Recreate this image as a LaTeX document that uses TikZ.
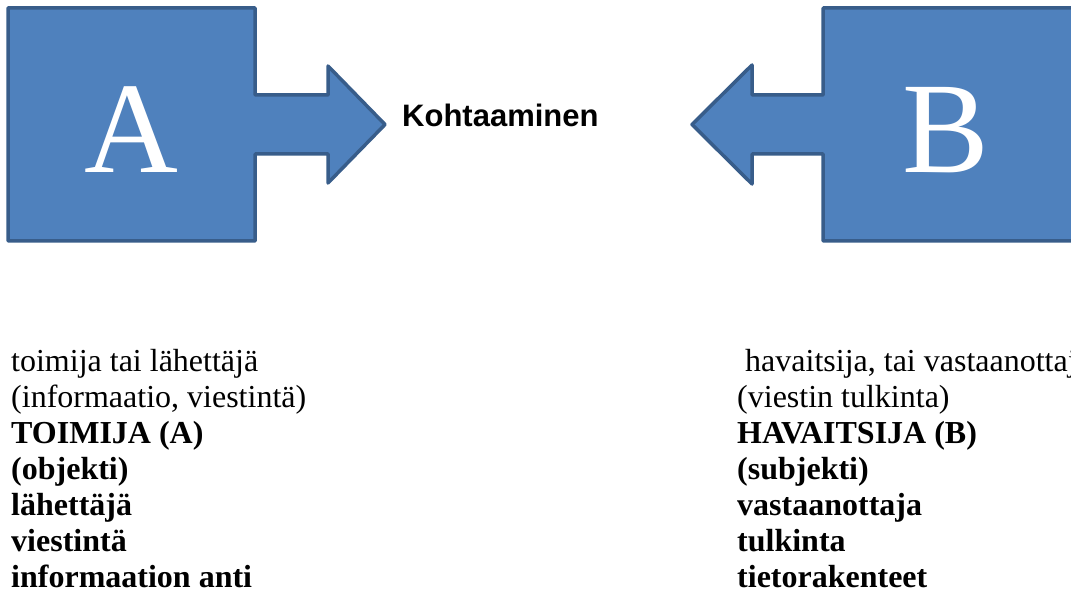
\documentclass[tikz,border=0pt]{standalone}
\usepackage{fontspec}
\setmainfont{Liberation Serif}
\newfontfamily\headfont{Liberation Sans}
\usepackage{tikz}
\usetikzlibrary{positioning}
\usepackage{xcolor}
\definecolor{partyfill}{HTML}{4F81BD}
\definecolor{partyedge}{HTML}{385D8A}
\tikzset{
  partyshape/.style={
    fill=partyfill,
    draw=partyedge,
    line width=3.5pt,
    line join=round
  },
  partyletter/.style={
    text=white,
    inner sep=0pt,
    font=\fontsize{130}{130}\selectfont
  },
  notes/.style={
    align=left,
    inner sep=0pt,
    font=\fontsize{32}{36}\selectfont
  }
}

\begin{document}
\begin{tikzpicture}[x=1pt, y=-1pt]
\clip (0,0) rectangle (1071,596);
\useasboundingbox (0,0) rectangle (1071,596);
% sender block A with its arrow
\draw[partyshape] (8,8) -- (255,8) -- (255,95) -- (328,95) -- (328,66) -- (385,124.5)
  -- (328,183) -- (328,154) -- (255,154) -- (255,241) -- (8,241) -- cycle;
% receiver block B with its arrow
\draw[partyshape] (1085,8) -- (823,8) -- (823,95) -- (752,95) -- (752,65) -- (692,124.5)
  -- (752,184) -- (752,154) -- (823,154) -- (823,241) -- (1085,241) -- cycle;
\node[partyletter, anchor=base] (lettera) at (131.5,173) {A};
\node[partyletter, anchor=base] (letterb) at (946,173) {B};
\node[font=\headfont\bfseries\fontsize{31}{31}\selectfont, inner sep=0pt, anchor=base west] (meet) at (402,127) {Kohtaaminen};
% base of a multi-line node is its last line
\node[notes, anchor=base west] (senderlist) at (11,587) {toimija tai lähettäjä\\
(informaatio, viestintä)\\
\textbf{TOIMIJA (A)}\\
\textbf{(objekti)}\\
\textbf{lähettäjä}\\
\textbf{viestintä}\\
\textbf{informaation anti}};
\node[notes, anchor=base west] (receiverlist) at (737,587) {\hspace{8pt}havaitsija, tai vastaanottaja\\
(viestin tulkinta)\\
\textbf{HAVAITSIJA (B)}\\
\textbf{(subjekti)}\\
\textbf{vastaanottaja}\\
\textbf{tulkinta}\\
\textbf{tietorakenteet}};
\end{tikzpicture}
\end{document}
